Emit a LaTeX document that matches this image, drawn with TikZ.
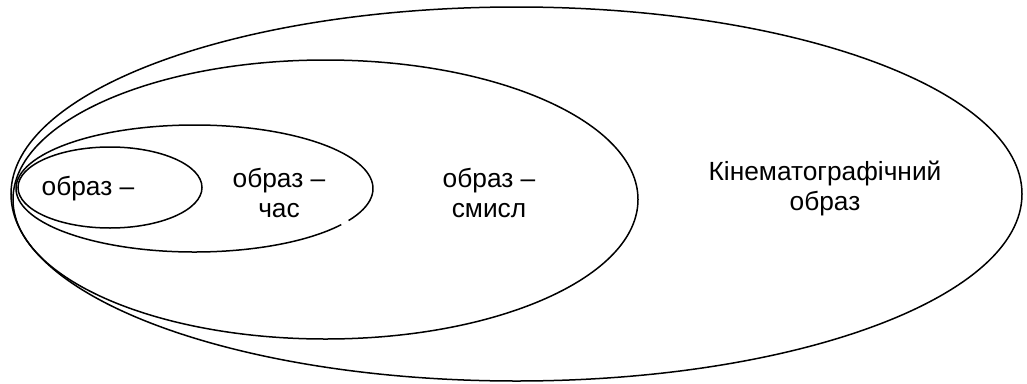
\documentclass[tikz,border=0pt]{standalone}
\usepackage{fontspec}
\setmainfont{Liberation Sans}
\begin{document}
\begin{tikzpicture}[x=1pt,y=-1pt,
  ring/.style={draw=black,line width=1.5pt},
  lbl/.style={font=\fontsize{26.3}{30}\selectfont,align=center,inner sep=0pt}]
\useasboundingbox (0,0) rectangle (1027,383);
% outer ellipse
\draw[ring] (516.5,194) ellipse [x radius=505.5, y radius=187];
% third ellipse
\draw[ring] (325.5,199.5) ellipse [x radius=312.5, y radius=139.5];
% second ellipse with small gap
\draw[ring] (194.5,188.5) ++(34.7:{178.5 and 63.5}) arc[start angle=34.7, end angle=390.3, x radius=178.5, y radius=63.5];
% smallest ellipse
\draw[ring] (110,187.5) ellipse [x radius=92, y radius=40.5];
\node[lbl] (t1) at (88,189) {образ –};
\node[lbl] (t2) at (279,193) {образ –\\час};
\node[lbl] (t3) at (489,193) {образ –\\смисл};
\node[lbl] (t4) at (825,188) {Кінематографічний\\образ};
\end{tikzpicture}
\end{document}
